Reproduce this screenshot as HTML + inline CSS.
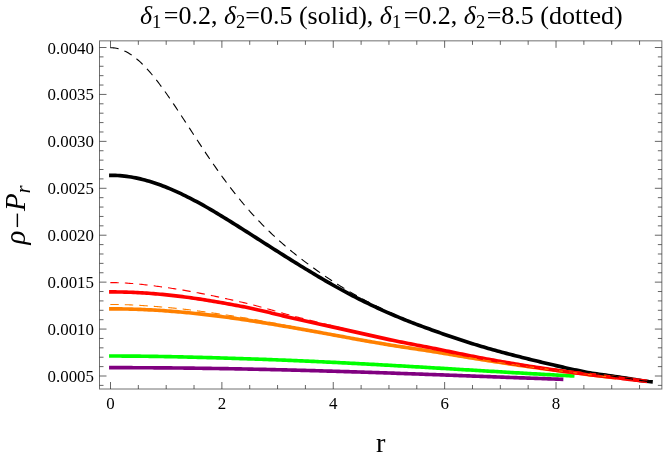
<!DOCTYPE html>
<html><head><meta charset="utf-8"><title>plot</title>
<style>
html,body{margin:0;padding:0;background:#fff;}
body{width:664px;height:458px;overflow:hidden;}
svg{display:block;will-change:transform;}
text{font-family:"Liberation Serif",serif;fill:#000;}
.t{font-size:16.9px;}
.ti{font-size:26px;}
.i{font-style:italic;}
.sub{font-size:18.5px;}
.ax{font-size:29px;}
</style></head><body>
<svg width="664" height="458" viewBox="0 0 664 458">
<rect width="664" height="458" fill="#fff"/>
<rect x="99.5" y="40.85" width="562.35" height="348.15" fill="none" stroke="#707070" stroke-width="1"/>
<path d="M110.50 389.0 v-7 M110.50 40.85 v7 M138.34 389.0 v-4 M138.34 40.85 v4 M166.19 389.0 v-4 M166.19 40.85 v4 M194.03 389.0 v-4 M194.03 40.85 v4 M221.88 389.0 v-7 M221.88 40.85 v7 M249.72 389.0 v-4 M249.72 40.85 v4 M277.57 389.0 v-4 M277.57 40.85 v4 M305.41 389.0 v-4 M305.41 40.85 v4 M333.26 389.0 v-7 M333.26 40.85 v7 M361.11 389.0 v-4 M361.11 40.85 v4 M388.95 389.0 v-4 M388.95 40.85 v4 M416.79 389.0 v-4 M416.79 40.85 v4 M444.64 389.0 v-7 M444.64 40.85 v7 M472.49 389.0 v-4 M472.49 40.85 v4 M500.33 389.0 v-4 M500.33 40.85 v4 M528.17 389.0 v-4 M528.17 40.85 v4 M556.02 389.0 v-7 M556.02 40.85 v7 M583.87 389.0 v-4 M583.87 40.85 v4 M611.71 389.0 v-4 M611.71 40.85 v4 M639.55 389.0 v-4 M639.55 40.85 v4 M99.5 385.39 h4 M661.85 385.39 h-4 M99.5 376.00 h7 M661.85 376.00 h-7 M99.5 366.61 h4 M661.85 366.61 h-4 M99.5 357.23 h4 M661.85 357.23 h-4 M99.5 347.84 h4 M661.85 347.84 h-4 M99.5 338.46 h4 M661.85 338.46 h-4 M99.5 329.07 h7 M661.85 329.07 h-7 M99.5 319.69 h4 M661.85 319.69 h-4 M99.5 310.30 h4 M661.85 310.30 h-4 M99.5 300.91 h4 M661.85 300.91 h-4 M99.5 291.53 h4 M661.85 291.53 h-4 M99.5 282.14 h7 M661.85 282.14 h-7 M99.5 272.76 h4 M661.85 272.76 h-4 M99.5 263.37 h4 M661.85 263.37 h-4 M99.5 253.99 h4 M661.85 253.99 h-4 M99.5 244.60 h4 M661.85 244.60 h-4 M99.5 235.21 h7 M661.85 235.21 h-7 M99.5 225.83 h4 M661.85 225.83 h-4 M99.5 216.44 h4 M661.85 216.44 h-4 M99.5 207.06 h4 M661.85 207.06 h-4 M99.5 197.67 h4 M661.85 197.67 h-4 M99.5 188.29 h7 M661.85 188.29 h-7 M99.5 178.90 h4 M661.85 178.90 h-4 M99.5 169.51 h4 M661.85 169.51 h-4 M99.5 160.13 h4 M661.85 160.13 h-4 M99.5 150.74 h4 M661.85 150.74 h-4 M99.5 141.36 h7 M661.85 141.36 h-7 M99.5 131.97 h4 M661.85 131.97 h-4 M99.5 122.59 h4 M661.85 122.59 h-4 M99.5 113.20 h4 M661.85 113.20 h-4 M99.5 103.81 h4 M661.85 103.81 h-4 M99.5 94.43 h7 M661.85 94.43 h-7 M99.5 85.04 h4 M661.85 85.04 h-4 M99.5 75.66 h4 M661.85 75.66 h-4 M99.5 66.27 h4 M661.85 66.27 h-4 M99.5 56.89 h4 M661.85 56.89 h-4 M99.5 47.50 h7 M661.85 47.50 h-7" fill="none" stroke="#333" stroke-width="0.75"/>
<path d="M110.89 175.32 L113.15 175.34 L115.41 175.41 L117.67 175.52 L119.93 175.67 L122.19 175.86 L124.45 176.10 L126.71 176.38 L128.97 176.70 L131.23 177.06 L133.49 177.46 L135.75 177.89 L138.01 178.37 L140.27 178.89 L142.53 179.44 L144.79 180.03 L147.05 180.65 L149.31 181.31 L151.57 182.00 L153.83 182.73 L156.08 183.48 L158.34 184.27 L160.60 185.09 L162.86 185.94 L165.12 186.82 L167.38 187.72 L169.64 188.66 L171.90 189.62 L174.16 190.60 L176.42 191.61 L178.68 192.65 L180.94 193.71 L183.20 194.79 L185.46 195.89 L187.72 197.02 L189.98 198.17 L192.24 199.33 L194.50 200.52 L196.76 201.73 L199.02 202.95 L201.28 204.20 L203.54 205.46 L205.80 206.73 L208.06 208.03 L210.32 209.34 L212.58 210.66 L214.84 212.00 L217.10 213.35 L219.36 214.71 L221.62 216.08 L223.88 217.47 L226.14 218.86 L228.40 220.26 L230.66 221.66 L232.92 223.08 L235.18 224.49 L237.44 225.91 L239.70 227.34 L241.96 228.77 L244.22 230.20 L246.48 231.64 L248.73 233.07 L250.99 234.51 L253.25 235.96 L255.51 237.40 L257.77 238.84 L260.03 240.29 L262.29 241.73 L264.55 243.18 L266.81 244.62 L269.07 246.06 L271.33 247.50 L273.59 248.94 L275.85 250.37 L278.11 251.81 L280.37 253.24 L282.63 254.66 L284.89 256.09 L287.15 257.51 L289.41 258.92 L291.67 260.33 L293.93 261.74 L296.19 263.14 L298.45 264.54 L300.71 265.93 L302.97 267.31 L305.23 268.69 L307.49 270.06 L309.75 271.43 L312.01 272.79 L314.27 274.15 L316.53 275.50 L318.79 276.84 L321.05 278.17 L323.31 279.50 L325.57 280.82 L327.83 282.13 L330.09 283.42 L332.35 284.71 L334.61 285.99 L336.87 287.25 L339.13 288.50 L341.38 289.74 L343.64 290.97 L345.90 292.19 L348.16 293.40 L350.42 294.59 L352.68 295.77 L354.94 296.94 L357.20 298.10 L359.46 299.25 L361.72 300.38 L363.98 301.50 L366.24 302.61 L368.50 303.71 L370.76 304.80 L373.02 305.87 L375.28 306.94 L377.54 307.99 L379.80 309.02 L382.06 310.05 L384.32 311.07 L386.58 312.07 L388.84 313.06 L391.10 314.04 L393.36 315.01 L395.62 315.97 L397.88 316.92 L400.14 317.85 L402.40 318.78 L404.66 319.69 L406.92 320.59 L409.18 321.48 L411.44 322.37 L413.70 323.24 L415.96 324.10 L418.22 324.95 L420.48 325.79 L422.74 326.63 L425.00 327.45 L427.26 328.27 L429.52 329.09 L431.78 329.91 L434.03 330.72 L436.29 331.52 L438.55 332.33 L440.81 333.12 L443.07 333.91 L445.33 334.70 L447.59 335.48 L449.85 336.26 L452.11 337.03 L454.37 337.79 L456.63 338.55 L458.89 339.30 L461.15 340.05 L463.41 340.79 L465.67 341.52 L467.93 342.25 L470.19 342.96 L472.45 343.68 L474.71 344.38 L476.97 345.08 L479.23 345.76 L481.49 346.45 L483.75 347.12 L486.01 347.78 L488.27 348.44 L490.53 349.08 L492.79 349.72 L495.05 350.35 L497.31 350.97 L499.57 351.58 L501.83 352.18 L504.09 352.77 L506.35 353.37 L508.61 353.96 L510.87 354.54 L513.13 355.12 L515.39 355.70 L517.65 356.28 L519.91 356.85 L522.17 357.42 L524.43 357.99 L526.68 358.55 L528.94 359.11 L531.20 359.67 L533.46 360.22 L535.72 360.77 L537.98 361.32 L540.24 361.87 L542.50 362.41 L544.76 362.95 L547.02 363.48 L549.28 364.02 L551.54 364.55 L553.80 365.07 L556.06 365.60 L558.32 366.12 L560.58 366.64 L562.84 367.15 L565.10 367.66 L567.36 368.17 L569.62 368.67 L571.88 369.17 L574.14 369.66 L576.40 370.15 L578.66 370.63 L580.92 371.11 L583.18 371.58 L585.44 372.01 L587.70 372.43 L589.96 372.81 L592.22 373.18 L594.48 373.54 L596.74 373.88 L599.00 374.21 L601.26 374.53 L603.52 374.84 L605.78 375.16 L608.04 375.47 L610.30 375.79 L612.56 376.12 L614.82 376.45 L617.08 376.80 L619.33 377.15 L621.59 377.49 L623.85 377.81 L626.11 378.13 L628.37 378.46 L630.63 378.82 L632.89 379.20 L635.15 379.58 L637.41 379.96 L639.67 380.33 L641.93 380.68 L644.19 381.00 L646.45 381.28 L648.71 381.52 L650.97 381.69" fill="none" stroke="#000" stroke-width="3.65" stroke-linecap="square"/>
<path d="M110.89 356.03 L112.82 356.03 L114.75 356.03 L116.69 356.03 L118.62 356.04 L120.55 356.05 L122.48 356.05 L124.41 356.06 L126.35 356.08 L128.28 356.09 L130.21 356.10 L132.14 356.12 L134.08 356.13 L136.01 356.15 L137.94 356.17 L139.87 356.19 L141.80 356.21 L143.74 356.24 L145.67 356.26 L147.60 356.29 L149.53 356.31 L151.46 356.34 L153.40 356.37 L155.33 356.40 L157.26 356.43 L159.19 356.46 L161.13 356.50 L163.06 356.53 L164.99 356.57 L166.92 356.60 L168.85 356.64 L170.79 356.68 L172.72 356.72 L174.65 356.76 L176.58 356.80 L178.51 356.84 L180.45 356.89 L182.38 356.93 L184.31 356.98 L186.24 357.02 L188.18 357.07 L190.11 357.12 L192.04 357.17 L193.97 357.22 L195.90 357.27 L197.84 357.32 L199.77 357.37 L201.70 357.42 L203.63 357.47 L205.56 357.53 L207.50 357.58 L209.43 357.64 L211.36 357.69 L213.29 357.75 L215.23 357.80 L217.16 357.86 L219.09 357.92 L221.02 357.98 L222.95 358.04 L224.89 358.10 L226.82 358.16 L228.75 358.22 L230.68 358.28 L232.61 358.34 L234.55 358.40 L236.48 358.46 L238.41 358.52 L240.34 358.59 L242.28 358.65 L244.21 358.71 L246.14 358.78 L248.07 358.84 L250.00 358.90 L251.94 358.97 L253.87 359.03 L255.80 359.10 L257.73 359.17 L259.66 359.23 L261.60 359.30 L263.53 359.37 L265.46 359.44 L267.39 359.51 L269.33 359.58 L271.26 359.66 L273.19 359.73 L275.12 359.80 L277.05 359.88 L278.99 359.95 L280.92 360.03 L282.85 360.11 L284.78 360.18 L286.71 360.26 L288.65 360.34 L290.58 360.42 L292.51 360.50 L294.44 360.58 L296.38 360.66 L298.31 360.75 L300.24 360.83 L302.17 360.91 L304.10 361.00 L306.04 361.08 L307.97 361.17 L309.90 361.25 L311.83 361.34 L313.76 361.43 L315.70 361.52 L317.63 361.61 L319.56 361.70 L321.49 361.79 L323.43 361.88 L325.36 361.97 L327.29 362.06 L329.22 362.15 L331.15 362.25 L333.09 362.34 L335.02 362.43 L336.95 362.53 L338.88 362.62 L340.81 362.72 L342.75 362.82 L344.68 362.91 L346.61 363.01 L348.54 363.11 L350.48 363.21 L352.41 363.31 L354.34 363.41 L356.27 363.51 L358.20 363.61 L360.14 363.71 L362.07 363.81 L364.00 363.91 L365.93 364.02 L367.86 364.12 L369.80 364.22 L371.73 364.33 L373.66 364.43 L375.59 364.54 L377.53 364.64 L379.46 364.75 L381.39 364.85 L383.32 364.96 L385.25 365.07 L387.19 365.18 L389.12 365.28 L391.05 365.39 L392.98 365.50 L394.91 365.61 L396.85 365.72 L398.78 365.83 L400.71 365.94 L402.64 366.05 L404.58 366.16 L406.51 366.27 L408.44 366.38 L410.37 366.49 L412.30 366.60 L414.24 366.72 L416.17 366.83 L418.10 366.94 L420.03 367.05 L421.96 367.17 L423.90 367.28 L425.83 367.39 L427.76 367.51 L429.69 367.62 L431.63 367.74 L433.56 367.85 L435.49 367.96 L437.42 368.08 L439.35 368.19 L441.29 368.31 L443.22 368.42 L445.15 368.54 L447.08 368.66 L449.01 368.77 L450.95 368.89 L452.88 369.00 L454.81 369.12 L456.74 369.23 L458.68 369.35 L460.61 369.47 L462.54 369.58 L464.47 369.70 L466.40 369.81 L468.34 369.93 L470.27 370.05 L472.20 370.16 L474.13 370.28 L476.06 370.40 L478.00 370.51 L479.93 370.63 L481.86 370.74 L483.79 370.86 L485.73 370.98 L487.66 371.09 L489.59 371.21 L491.52 371.32 L493.45 371.44 L495.39 371.55 L497.32 371.67 L499.25 371.79 L501.18 371.90 L503.11 372.02 L505.05 372.13 L506.98 372.24 L508.91 372.36 L510.84 372.47 L512.77 372.59 L514.71 372.70 L516.64 372.81 L518.57 372.93 L520.50 373.04 L522.44 373.15 L524.37 373.26 L526.30 373.38 L528.23 373.49 L530.16 373.60 L532.10 373.71 L534.03 373.82 L535.96 373.93 L537.89 374.04 L539.82 374.15 L541.76 374.26 L543.69 374.37 L545.62 374.48 L547.55 374.59 L549.49 374.69 L551.42 374.80 L553.35 374.91 L555.28 375.01 L557.21 375.12 L559.15 375.22 L561.08 375.33 L563.01 375.43 L564.94 375.54 L566.87 375.64 L568.81 375.74 L570.74 375.84 L572.67 375.94" fill="none" stroke="#00ff00" stroke-width="3.65" stroke-linecap="square"/>
<path d="M110.89 367.66 L112.78 367.66 L114.66 367.66 L116.55 367.66 L118.43 367.66 L120.32 367.67 L122.20 367.67 L124.09 367.67 L125.97 367.68 L127.86 367.68 L129.75 367.69 L131.63 367.69 L133.52 367.70 L135.40 367.71 L137.29 367.71 L139.17 367.72 L141.06 367.73 L142.94 367.74 L144.83 367.75 L146.72 367.76 L148.60 367.77 L150.49 367.78 L152.37 367.79 L154.26 367.81 L156.14 367.82 L158.03 367.83 L159.91 367.85 L161.80 367.86 L163.68 367.87 L165.57 367.89 L167.46 367.91 L169.34 367.92 L171.23 367.94 L173.11 367.96 L175.00 367.98 L176.88 367.99 L178.77 368.01 L180.65 368.03 L182.54 368.05 L184.43 368.07 L186.31 368.10 L188.20 368.12 L190.08 368.14 L191.97 368.16 L193.85 368.19 L195.74 368.21 L197.62 368.23 L199.51 368.26 L201.40 368.28 L203.28 368.31 L205.17 368.34 L207.05 368.36 L208.94 368.39 L210.82 368.42 L212.71 368.45 L214.59 368.48 L216.48 368.51 L218.37 368.54 L220.25 368.57 L222.14 368.60 L224.02 368.63 L225.91 368.66 L227.79 368.69 L229.68 368.73 L231.56 368.76 L233.45 368.79 L235.34 368.83 L237.22 368.86 L239.11 368.90 L240.99 368.93 L242.88 368.97 L244.76 369.01 L246.65 369.04 L248.53 369.08 L250.42 369.12 L252.31 369.16 L254.19 369.20 L256.08 369.24 L257.96 369.28 L259.85 369.32 L261.73 369.36 L263.62 369.40 L265.50 369.44 L267.39 369.49 L269.27 369.53 L271.16 369.57 L273.05 369.61 L274.93 369.66 L276.82 369.70 L278.70 369.75 L280.59 369.79 L282.47 369.84 L284.36 369.89 L286.24 369.93 L288.13 369.98 L290.02 370.03 L291.90 370.07 L293.79 370.12 L295.67 370.17 L297.56 370.22 L299.44 370.27 L301.33 370.32 L303.21 370.37 L305.10 370.42 L306.99 370.47 L308.87 370.52 L310.76 370.57 L312.64 370.63 L314.53 370.68 L316.41 370.73 L318.30 370.79 L320.18 370.84 L322.07 370.89 L323.96 370.95 L325.84 371.00 L327.73 371.06 L329.61 371.11 L331.50 371.17 L333.38 371.23 L335.27 371.28 L337.15 371.34 L339.04 371.40 L340.93 371.45 L342.81 371.51 L344.70 371.57 L346.58 371.63 L348.47 371.69 L350.35 371.75 L352.24 371.81 L354.12 371.87 L356.01 371.93 L357.90 371.99 L359.78 372.05 L361.67 372.11 L363.55 372.17 L365.44 372.23 L367.32 372.29 L369.21 372.35 L371.09 372.42 L372.98 372.48 L374.87 372.54 L376.75 372.60 L378.64 372.67 L380.52 372.73 L382.41 372.80 L384.29 372.86 L386.18 372.92 L388.06 372.99 L389.95 373.05 L391.83 373.12 L393.72 373.18 L395.61 373.25 L397.49 373.31 L399.38 373.38 L401.26 373.45 L403.15 373.51 L405.03 373.58 L406.92 373.65 L408.80 373.71 L410.69 373.78 L412.58 373.85 L414.46 373.91 L416.35 373.98 L418.23 374.05 L420.12 374.12 L422.00 374.19 L423.89 374.25 L425.77 374.32 L427.66 374.39 L429.55 374.46 L431.43 374.53 L433.32 374.60 L435.20 374.67 L437.09 374.73 L438.97 374.80 L440.86 374.87 L442.74 374.94 L444.63 375.01 L446.52 375.08 L448.40 375.15 L450.29 375.22 L452.17 375.29 L454.06 375.36 L455.94 375.43 L457.83 375.50 L459.71 375.57 L461.60 375.64 L463.49 375.71 L465.37 375.78 L467.26 375.85 L469.14 375.92 L471.03 375.99 L472.91 376.06 L474.80 376.13 L476.68 376.20 L478.57 376.27 L480.46 376.34 L482.34 376.41 L484.23 376.48 L486.11 376.55 L488.00 376.62 L489.88 376.69 L491.77 376.76 L493.65 376.83 L495.54 376.90 L497.43 376.97 L499.31 377.04 L501.20 377.11 L503.08 377.18 L504.97 377.25 L506.85 377.32 L508.74 377.39 L510.62 377.46 L512.51 377.53 L514.39 377.60 L516.28 377.67 L518.17 377.74 L520.05 377.81 L521.94 377.87 L523.82 377.94 L525.71 378.01 L527.59 378.08 L529.48 378.15 L531.36 378.22 L533.25 378.28 L535.14 378.35 L537.02 378.42 L538.91 378.48 L540.79 378.55 L542.68 378.62 L544.56 378.68 L546.45 378.75 L548.33 378.82 L550.22 378.88 L552.11 378.95 L553.99 379.01 L555.88 379.08 L557.76 379.14 L559.65 379.21 L561.53 379.27" fill="none" stroke="#800080" stroke-width="3.65" stroke-linecap="square"/>
<path d="M110.89 308.84 L113.00 308.84 L115.10 308.85 L117.21 308.87 L119.32 308.89 L121.43 308.92 L123.53 308.95 L125.64 308.99 L127.75 309.04 L129.85 309.09 L131.96 309.15 L134.07 309.21 L136.18 309.28 L138.28 309.35 L140.39 309.43 L142.50 309.52 L144.60 309.61 L146.71 309.71 L148.82 309.81 L150.93 309.92 L153.03 310.04 L155.14 310.16 L157.25 310.28 L159.35 310.41 L161.46 310.55 L163.57 310.69 L165.68 310.84 L167.78 310.99 L169.89 311.15 L172.00 311.31 L174.10 311.48 L176.21 311.65 L178.32 311.83 L180.43 312.02 L182.53 312.21 L184.64 312.40 L186.75 312.60 L188.85 312.80 L190.96 313.01 L193.07 313.23 L195.18 313.45 L197.28 313.67 L199.39 313.90 L201.50 314.13 L203.60 314.37 L205.71 314.61 L207.82 314.85 L209.93 315.10 L212.03 315.36 L214.14 315.62 L216.25 315.88 L218.35 316.15 L220.46 316.42 L222.57 316.69 L224.67 316.97 L226.78 317.25 L228.89 317.54 L231.00 317.83 L233.10 318.12 L235.21 318.42 L237.32 318.72 L239.42 319.03 L241.53 319.33 L243.64 319.64 L245.75 319.96 L247.85 320.28 L249.96 320.60 L252.07 320.92 L254.17 321.25 L256.28 321.58 L258.39 321.91 L260.50 322.24 L262.60 322.58 L264.71 322.92 L266.82 323.26 L268.92 323.61 L271.03 323.95 L273.14 324.30 L275.25 324.65 L277.35 325.01 L279.46 325.36 L281.57 325.72 L283.67 326.08 L285.78 326.44 L287.89 326.81 L290.00 327.17 L292.10 327.54 L294.21 327.91 L296.32 328.28 L298.42 328.65 L300.53 329.02 L302.64 329.39 L304.75 329.77 L306.85 330.14 L308.96 330.52 L311.07 330.90 L313.17 331.28 L315.28 331.66 L317.39 332.04 L319.50 332.42 L321.60 332.80 L323.71 333.18 L325.82 333.56 L327.92 333.94 L330.03 334.33 L332.14 334.71 L334.25 335.09 L336.35 335.48 L338.46 335.87 L340.57 336.26 L342.67 336.66 L344.78 337.05 L346.89 337.44 L349.00 337.83 L351.10 338.22 L353.21 338.60 L355.32 338.99 L357.42 339.37 L359.53 339.74 L361.64 340.12 L363.75 340.49 L365.85 340.86 L367.96 341.22 L370.07 341.59 L372.17 341.95 L374.28 342.32 L376.39 342.68 L378.50 343.05 L380.60 343.41 L382.71 343.78 L384.82 344.14 L386.92 344.50 L389.03 344.85 L391.14 345.20 L393.25 345.54 L395.35 345.87 L397.46 346.20 L399.57 346.52 L401.67 346.84 L403.78 347.16 L405.89 347.48 L408.00 347.79 L410.10 348.10 L412.21 348.41 L414.32 348.72 L416.42 349.03 L418.53 349.35 L420.64 349.66 L422.75 349.98 L424.85 350.30 L426.96 350.62 L429.07 350.95 L431.17 351.28 L433.28 351.61 L435.39 351.95 L437.50 352.29 L439.60 352.64 L441.71 352.99 L443.82 353.35 L445.92 353.71 L448.03 354.07 L450.14 354.43 L452.25 354.79 L454.35 355.15 L456.46 355.50 L458.57 355.85 L460.67 356.21 L462.78 356.55 L464.89 356.90 L467.00 357.25 L469.10 357.60 L471.21 357.94 L473.32 358.28 L475.42 358.62 L477.53 358.96 L479.64 359.30 L481.75 359.63 L483.85 359.97 L485.96 360.30 L488.07 360.63 L490.17 360.95 L492.28 361.28 L494.39 361.61 L496.50 361.93 L498.60 362.25 L500.71 362.57 L502.82 362.89 L504.92 363.21 L507.03 363.53 L509.14 363.84 L511.25 364.15 L513.35 364.46 L515.46 364.77 L517.57 365.08 L519.67 365.38 L521.78 365.69 L523.89 365.99 L525.99 366.29 L528.10 366.59 L530.21 366.89 L532.32 367.18 L534.42 367.47 L536.53 367.76 L538.64 368.05 L540.74 368.33 L542.85 368.61 L544.96 368.90 L547.07 369.18 L549.17 369.46 L551.28 369.74 L553.39 370.02 L555.49 370.30 L557.60 370.58 L559.71 370.86 L561.82 371.14 L563.92 371.42 L566.03 371.69 L568.14 371.96 L570.24 372.23 L572.35 372.50 L574.46 372.76 L576.57 373.03 L578.67 373.29 L580.78 373.55 L582.89 373.81 L584.99 374.07 L587.10 374.32 L589.21 374.58 L591.32 374.83 L593.42 375.09 L595.53 375.34 L597.64 375.59 L599.74 375.84 L601.85 376.09 L603.96 376.34 L606.07 376.59 L608.17 376.84 L610.28 377.09 L612.39 377.34 L614.49 377.58" fill="none" stroke="#ff8000" stroke-width="3.65" stroke-linecap="square"/>
<path d="M110.89 291.90 L113.13 291.91 L115.36 291.92 L117.60 291.95 L119.83 291.98 L122.07 292.03 L124.31 292.08 L126.54 292.15 L128.78 292.22 L131.02 292.30 L133.25 292.40 L135.49 292.50 L137.72 292.61 L139.96 292.73 L142.20 292.86 L144.43 293.00 L146.67 293.14 L148.91 293.30 L151.14 293.47 L153.38 293.64 L155.61 293.83 L157.85 294.02 L160.09 294.22 L162.32 294.43 L164.56 294.65 L166.80 294.87 L169.03 295.11 L171.27 295.35 L173.50 295.60 L175.74 295.86 L177.98 296.12 L180.21 296.40 L182.45 296.68 L184.69 296.97 L186.92 297.26 L189.16 297.56 L191.39 297.87 L193.63 298.19 L195.87 298.52 L198.10 298.85 L200.34 299.18 L202.57 299.53 L204.81 299.87 L207.05 300.23 L209.28 300.59 L211.52 300.96 L213.76 301.33 L215.99 301.71 L218.23 302.09 L220.46 302.48 L222.70 302.88 L224.94 303.28 L227.17 303.68 L229.41 304.09 L231.65 304.50 L233.88 304.92 L236.12 305.34 L238.35 305.77 L240.59 306.20 L242.83 306.63 L245.06 307.07 L247.30 307.52 L249.54 307.99 L251.77 308.46 L254.01 308.95 L256.24 309.45 L258.48 309.96 L260.72 310.47 L262.95 311.00 L265.19 311.53 L267.43 312.06 L269.66 312.60 L271.90 313.15 L274.13 313.69 L276.37 314.23 L278.61 314.78 L280.84 315.32 L283.08 315.87 L285.32 316.40 L287.55 316.94 L289.79 317.47 L292.02 317.99 L294.26 318.51 L296.50 319.01 L298.73 319.51 L300.97 320.00 L303.20 320.49 L305.44 320.98 L307.68 321.47 L309.91 321.96 L312.15 322.45 L314.39 322.94 L316.62 323.44 L318.86 323.93 L321.09 324.42 L323.33 324.92 L325.57 325.41 L327.80 325.91 L330.04 326.40 L332.28 326.90 L334.51 327.40 L336.75 327.89 L338.98 328.39 L341.22 328.89 L343.46 329.39 L345.69 329.88 L347.93 330.38 L350.17 330.88 L352.40 331.38 L354.64 331.88 L356.87 332.38 L359.11 332.88 L361.35 333.38 L363.58 333.88 L365.82 334.38 L368.06 334.88 L370.29 335.38 L372.53 335.89 L374.76 336.39 L377.00 336.89 L379.24 337.39 L381.47 337.89 L383.71 338.39 L385.95 338.89 L388.18 339.38 L390.42 339.85 L392.65 340.32 L394.89 340.79 L397.13 341.24 L399.36 341.70 L401.60 342.14 L403.83 342.58 L406.07 343.02 L408.31 343.46 L410.54 343.89 L412.78 344.32 L415.02 344.75 L417.25 345.18 L419.49 345.60 L421.72 346.03 L423.96 346.46 L426.20 346.89 L428.43 347.33 L430.67 347.76 L432.91 348.20 L435.14 348.65 L437.38 349.09 L439.61 349.55 L441.85 350.01 L444.09 350.47 L446.32 350.94 L448.56 351.41 L450.80 351.88 L453.03 352.34 L455.27 352.80 L457.50 353.26 L459.74 353.71 L461.98 354.16 L464.21 354.61 L466.45 355.06 L468.69 355.50 L470.92 355.94 L473.16 356.38 L475.39 356.81 L477.63 357.24 L479.87 357.67 L482.10 358.09 L484.34 358.51 L486.58 358.93 L488.81 359.34 L491.05 359.75 L493.28 360.16 L495.52 360.56 L497.76 360.96 L499.99 361.36 L502.23 361.75 L504.46 362.14 L506.70 362.52 L508.94 362.91 L511.17 363.28 L513.41 363.66 L515.65 364.03 L517.88 364.40 L520.12 364.76 L522.35 365.12 L524.59 365.48 L526.83 365.84 L529.06 366.19 L531.30 366.54 L533.54 366.88 L535.77 367.22 L538.01 367.56 L540.24 367.90 L542.48 368.23 L544.72 368.56 L546.95 368.88 L549.19 369.20 L551.43 369.52 L553.66 369.84 L555.90 370.16 L558.13 370.47 L560.37 370.78 L562.61 371.08 L564.84 371.39 L567.08 371.69 L569.32 371.98 L571.55 372.28 L573.79 372.57 L576.02 372.87 L578.26 373.15 L580.50 373.44 L582.73 373.73 L584.97 374.01 L587.21 374.29 L589.44 374.57 L591.68 374.84 L593.91 375.12 L596.15 375.39 L598.39 375.67 L600.62 375.94 L602.86 376.20 L605.09 376.47 L607.33 376.74 L609.57 377.00 L611.80 377.27 L614.04 377.53 L616.28 377.79 L618.51 378.05 L620.75 378.31 L622.98 378.57 L625.22 378.83 L627.46 379.09 L629.69 379.34 L631.93 379.60 L634.17 379.85 L636.40 380.11 L638.64 380.37 L640.87 380.62 L643.11 380.87 L645.35 381.13" fill="none" stroke="#ff0000" stroke-width="3.65" stroke-linecap="square"/>
<path d="M110.89 304.44 L112.15 304.44 L113.41 304.45 L114.68 304.46 L115.94 304.47 L117.20 304.49 L118.46 304.51 L119.72 304.54 L120.99 304.57 L122.25 304.60 L123.51 304.63 L124.77 304.67 L126.04 304.71 L127.30 304.76 L128.56 304.81 L129.82 304.86 L131.08 304.91 L132.35 304.97 L133.61 305.03 L134.87 305.09 L136.13 305.16 L137.40 305.22 L138.66 305.29 L139.92 305.37 L141.18 305.44 L142.44 305.52 L143.71 305.60 L144.97 305.68 L146.23 305.77 L147.49 305.86 L148.75 305.95 L150.02 306.04 L151.28 306.13 L152.54 306.23 L153.80 306.33 L155.07 306.43 L156.33 306.53 L157.59 306.63 L158.85 306.74 L160.11 306.84 L161.38 306.95 L162.64 307.06 L163.90 307.17 L165.16 307.28 L166.43 307.40 L167.69 307.51 L168.95 307.63 L170.21 307.75 L171.47 307.87 L172.74 308.00 L174.00 308.12 L175.26 308.25 L176.52 308.39 L177.78 308.52 L179.05 308.66 L180.31 308.79 L181.57 308.93 L182.83 309.08 L184.10 309.22 L185.36 309.37 L186.62 309.51 L187.88 309.66 L189.14 309.82 L190.41 309.97 L191.67 310.12 L192.93 310.28 L194.19 310.44 L195.46 310.60 L196.72 310.76 L197.98 310.93 L199.24 311.09 L200.50 311.26 L201.77 311.43 L203.03 311.60 L204.29 311.77 L205.55 311.94 L206.81 312.12 L208.08 312.30 L209.34 312.47 L210.60 312.65 L211.86 312.83 L213.13 313.01 L214.39 313.20 L215.65 313.38 L216.91 313.56 L218.17 313.75 L219.44 313.94 L220.70 314.12 L221.96 314.31 L223.22 314.50 L224.48 314.69 L225.75 314.89 L227.01 315.08 L228.27 315.27 L229.53 315.47 L230.80 315.66 L232.06 315.86 L233.32 316.06 L234.58 316.26 L235.84 316.46 L237.11 316.66 L238.37 316.87 L239.63 317.07 L240.89 317.28 L242.16 317.48 L243.42 317.69 L244.68 317.90 L245.94 318.12 L247.20 318.33 L248.47 318.54 L249.73 318.76 L250.99 318.98 L252.25 319.20 L253.51 319.42 L254.78 319.64 L256.04 319.87 L257.30 320.09 L258.56 320.32 L259.83 320.55 L261.09 320.78 L262.35 321.01 L263.61 321.24 L264.87 321.47 L266.14 321.71 L267.40 321.94 L268.66 322.18 L269.92 322.41 L271.19 322.65 L272.45 322.88 L273.71 323.12 L274.97 323.36 L276.23 323.59 L277.50 323.83 L278.76 324.07 L280.02 324.31 L281.28 324.55 L282.54 324.79 L283.81 325.03 L285.07 325.27 L286.33 325.51 L287.59 325.76 L288.86 326.00 L290.12 326.25 L291.38 326.49 L292.64 326.74 L293.90 326.98 L295.17 327.23 L296.43 327.47 L297.69 327.72 L298.95 327.96 L300.21 328.21 L301.48 328.45 L302.74 328.70 L304.00 328.94 L305.26 329.18 L306.53 329.43 L307.79 329.67 L309.05 329.91 L310.31 330.15 L311.57 330.40 L312.84 330.64 L314.10 330.88 L315.36 331.12 L316.62 331.36 L317.89 331.60 L319.15 331.84 L320.41 332.08 L321.67 332.32 L322.93 332.56 L324.20 332.80 L325.46 333.05 L326.72 333.29 L327.98 333.53 L329.24 333.77 L330.51 334.01 L331.77 334.25 L333.03 334.49 L334.29 334.73 L335.56 334.97 L336.82 335.21 L338.08 335.46 L339.34 335.70 L340.60 335.95 L341.87 336.19 L343.13 336.43 L344.39 336.68 L345.65 336.92 L346.92 337.17 L348.18 337.41 L349.44 337.65 L350.70 337.89 L351.96 338.13 L353.23 338.37 L354.49 338.60 L355.75 338.84 L357.01 339.07 L358.27 339.30 L359.54 339.54 L360.80 339.77 L362.06 340.00 L363.32 340.23 L364.59 340.45 L365.85 340.68 L367.11 340.91 L368.37 341.13 L369.63 341.36 L370.90 341.58 L372.16 341.81 L373.42 342.03 L374.68 342.26 L375.94 342.48 L377.21 342.70 L378.47 342.93 L379.73 343.15 L380.99 343.38 L382.26 343.60 L383.52 343.83 L384.78 344.05 L386.04 344.27 L387.30 344.49 L388.57 344.71 L389.83 344.92 L391.09 345.14 L392.35 345.34 L393.62 345.55 L394.88 345.76 L396.14 345.96 L397.40 346.16 L398.66 346.36 L399.93 346.55 L401.19 346.75 L402.45 346.94 L403.71 347.13 L404.97 347.33 L406.24 347.52 L407.50 347.71 L408.76 347.90 L410.02 348.08 L411.29 348.27 L412.55 348.46 L413.81 348.65 L415.07 348.83 L416.33 349.02 L417.60 349.21 L418.86 349.40 L420.12 349.59 L421.38 349.77 L422.65 349.96 L423.91 350.16 L425.17 350.35 L426.43 350.54 L427.69 350.73 L428.96 350.93 L430.22 351.13 L431.48 351.32 L432.74 351.52 L434.00 351.72 L435.27 351.93 L436.53 352.13 L437.79 352.34 L439.05 352.54 L440.32 352.75 L441.58 352.97 L442.84 353.18 L444.10 353.40 L445.36 353.61 L446.63 353.83 L447.89 354.05 L449.15 354.26 L450.41 354.48 L451.67 354.69 L452.94 354.91 L454.20 355.12 L455.46 355.33 L456.72 355.55 L457.99 355.76 L459.25 355.97 L460.51 356.18 L461.77 356.39 L463.03 356.60 L464.30 356.81 L465.56 357.01 L466.82 357.22 L468.08 357.43 L469.35 357.63 L470.61 357.84 L471.87 358.05 L473.13 358.25 L474.39 358.46 L475.66 358.66 L476.92 358.87 L478.18 359.07 L479.44 359.27 L480.70 359.47 L481.97 359.67 L483.23 359.87 L484.49 360.07 L485.75 360.27 L487.02 360.46 L488.28 360.66 L489.54 360.86 L490.80 361.05 L492.06 361.25 L493.33 361.44 L494.59 361.64 L495.85 361.83 L497.11 362.02 L498.38 362.22 L499.64 362.41 L500.90 362.60 L502.16 362.79 L503.42 362.99 L504.69 363.18 L505.95 363.37 L507.21 363.56 L508.47 363.74 L509.73 363.93 L511.00 364.12 L512.26 364.30 L513.52 364.49 L514.78 364.67 L516.05 364.86 L517.31 365.04 L518.57 365.22 L519.83 365.41 L521.09 365.59 L522.36 365.77 L523.62 365.95 L524.88 366.13 L526.14 366.31 L527.40 366.49 L528.67 366.67 L529.93 366.85 L531.19 367.02 L532.45 367.20 L533.72 367.37 L534.98 367.55 L536.24 367.72 L537.50 367.89 L538.76 368.06 L540.03 368.23 L541.29 368.40 L542.55 368.57 L543.81 368.74 L545.08 368.91 L546.34 369.08 L547.60 369.25 L548.86 369.42 L550.12 369.59 L551.39 369.75 L552.65 369.92 L553.91 370.09 L555.17 370.26 L556.43 370.43 L557.70 370.60 L558.96 370.76 L560.22 370.93 L561.48 371.10 L562.75 371.26 L564.01 371.43 L565.27 371.59 L566.53 371.75 L567.79 371.92 L569.06 372.08 L570.32 372.24 L571.58 372.40 L572.84 372.56 L574.11 372.72 L575.37 372.88 L576.63 373.03 L577.89 373.19 L579.15 373.35 L580.42 373.50 L581.68 373.66 L582.94 373.81 L584.20 373.97 L585.46 374.12 L586.73 374.28 L587.99 374.43 L589.25 374.58 L590.51 374.74 L591.78 374.89 L593.04 375.04 L594.30 375.19 L595.56 375.34 L596.82 375.49 L598.09 375.64 L599.35 375.79 L600.61 375.94 L601.87 376.09 L603.13 376.24 L604.40 376.39 L605.66 376.54 L606.92 376.69 L608.18 376.84 L609.45 376.99 L610.71 377.14 L611.97 377.29 L613.23 377.43 L614.49 377.58" fill="none" stroke="#ff8000" stroke-width="1.1" stroke-dasharray="7.3 7.2" stroke-linecap="square"/>
<path d="M110.89 282.60 L112.23 282.61 L113.57 282.62 L114.91 282.64 L116.25 282.67 L117.59 282.71 L118.93 282.75 L120.27 282.80 L121.61 282.86 L122.95 282.92 L124.28 282.99 L125.62 283.07 L126.96 283.15 L128.30 283.24 L129.64 283.33 L130.98 283.43 L132.32 283.54 L133.66 283.65 L135.00 283.76 L136.34 283.88 L137.68 284.01 L139.02 284.14 L140.36 284.27 L141.70 284.41 L143.04 284.56 L144.38 284.70 L145.72 284.85 L147.06 285.01 L148.40 285.17 L149.74 285.33 L151.07 285.49 L152.41 285.66 L153.75 285.83 L155.09 286.00 L156.43 286.18 L157.77 286.35 L159.11 286.53 L160.45 286.72 L161.79 286.90 L163.13 287.08 L164.47 287.27 L165.81 287.46 L167.15 287.64 L168.49 287.84 L169.83 288.03 L171.17 288.23 L172.51 288.43 L173.85 288.64 L175.19 288.85 L176.52 289.06 L177.86 289.27 L179.20 289.49 L180.54 289.71 L181.88 289.93 L183.22 290.16 L184.56 290.39 L185.90 290.62 L187.24 290.86 L188.58 291.10 L189.92 291.34 L191.26 291.58 L192.60 291.82 L193.94 292.07 L195.28 292.32 L196.62 292.58 L197.96 292.83 L199.30 293.09 L200.64 293.35 L201.98 293.61 L203.31 293.87 L204.65 294.14 L205.99 294.41 L207.33 294.68 L208.67 294.95 L210.01 295.23 L211.35 295.50 L212.69 295.78 L214.03 296.06 L215.37 296.34 L216.71 296.63 L218.05 296.91 L219.39 297.20 L220.73 297.48 L222.07 297.77 L223.41 298.06 L224.75 298.36 L226.09 298.65 L227.43 298.95 L228.77 299.24 L230.10 299.54 L231.44 299.84 L232.78 300.14 L234.12 300.44 L235.46 300.75 L236.80 301.05 L238.14 301.36 L239.48 301.67 L240.82 301.98 L242.16 302.29 L243.50 302.60 L244.84 302.91 L246.18 303.23 L247.52 303.55 L248.86 303.88 L250.20 304.21 L251.54 304.55 L252.88 304.89 L254.22 305.24 L255.55 305.59 L256.89 305.94 L258.23 306.30 L259.57 306.66 L260.91 307.02 L262.25 307.39 L263.59 307.76 L264.93 308.13 L266.27 308.50 L267.61 308.88 L268.95 309.26 L270.29 309.63 L271.63 310.01 L272.97 310.40 L274.31 310.78 L275.65 311.16 L276.99 311.54 L278.33 311.92 L279.67 312.30 L281.01 312.68 L282.34 313.05 L283.68 313.43 L285.02 313.80 L286.36 314.17 L287.70 314.54 L289.04 314.90 L290.38 315.26 L291.72 315.62 L293.06 315.98 L294.40 316.33 L295.74 316.68 L297.08 317.03 L298.42 317.37 L299.76 317.70 L301.10 318.04 L302.44 318.37 L303.78 318.71 L305.12 319.04 L306.46 319.37 L307.80 319.71 L309.13 320.04 L310.47 320.37 L311.81 320.70 L313.15 321.03 L314.49 321.36 L315.83 321.69 L317.17 322.03 L318.51 322.36 L319.85 322.69 L321.19 323.02 L322.53 323.35 L323.87 323.68 L325.21 324.01 L326.55 324.34 L327.89 324.67 L329.23 325.00 L330.57 325.33 L331.91 325.66 L333.25 325.99 L334.58 326.32 L335.92 326.64 L337.26 326.97 L338.60 327.30 L339.94 327.62 L341.28 327.95 L342.62 328.27 L343.96 328.59 L345.30 328.91 L346.64 329.24 L347.98 329.56 L349.32 329.88 L350.66 330.20 L352.00 330.52 L353.34 330.84 L354.68 331.16 L356.02 331.48 L357.36 331.80 L358.70 332.13 L360.04 332.45 L361.37 332.77 L362.71 333.08 L364.05 333.40 L365.39 333.72 L366.73 334.04 L368.07 334.36 L369.41 334.68 L370.75 335.00 L372.09 335.31 L373.43 335.63 L374.77 335.95 L376.11 336.26 L377.45 336.58 L378.79 336.89 L380.13 337.21 L381.47 337.52 L382.81 337.84 L384.15 338.15 L385.49 338.46 L386.82 338.76 L388.16 339.07 L389.50 339.36 L390.84 339.66 L392.18 339.95 L393.52 340.24 L394.86 340.53 L396.20 340.81 L397.54 341.10 L398.88 341.38 L400.22 341.66 L401.56 341.93 L402.90 342.21 L404.24 342.48 L405.58 342.75 L406.92 343.03 L408.26 343.30 L409.60 343.56 L410.94 343.83 L412.28 344.10 L413.61 344.36 L414.95 344.63 L416.29 344.89 L417.63 345.16 L418.97 345.42 L420.31 345.69 L421.65 345.95 L422.99 346.22 L424.33 346.48 L425.67 346.74 L427.01 347.01 L428.35 347.27 L429.69 347.54 L431.03 347.81 L432.37 348.08 L433.71 348.34 L435.05 348.61 L436.39 348.89 L437.73 349.16 L439.07 349.43 L440.40 349.71 L441.74 349.98 L443.08 350.26 L444.42 350.54 L445.76 350.83 L447.10 351.11 L448.44 351.39 L449.78 351.67 L451.12 351.94 L452.46 352.22 L453.80 352.50 L455.14 352.77 L456.48 353.05 L457.82 353.32 L459.16 353.59 L460.50 353.87 L461.84 354.14 L463.18 354.41 L464.52 354.67 L465.85 354.94 L467.19 355.21 L468.53 355.47 L469.87 355.74 L471.21 356.00 L472.55 356.26 L473.89 356.52 L475.23 356.78 L476.57 357.04 L477.91 357.30 L479.25 357.55 L480.59 357.81 L481.93 358.06 L483.27 358.31 L484.61 358.56 L485.95 358.81 L487.29 359.06 L488.63 359.31 L489.97 359.55 L491.31 359.80 L492.64 360.04 L493.98 360.29 L495.32 360.53 L496.66 360.77 L498.00 361.00 L499.34 361.24 L500.68 361.48 L502.02 361.71 L503.36 361.95 L504.70 362.18 L506.04 362.41 L507.38 362.64 L508.72 362.87 L510.06 363.10 L511.40 363.32 L512.74 363.55 L514.08 363.77 L515.42 363.99 L516.76 364.21 L518.10 364.43 L519.43 364.65 L520.77 364.87 L522.11 365.09 L523.45 365.30 L524.79 365.51 L526.13 365.73 L527.47 365.94 L528.81 366.15 L530.15 366.36 L531.49 366.57 L532.83 366.77 L534.17 366.98 L535.51 367.18 L536.85 367.39 L538.19 367.59 L539.53 367.79 L540.87 367.99 L542.21 368.19 L543.55 368.38 L544.88 368.58 L546.22 368.78 L547.56 368.97 L548.90 369.16 L550.24 369.36 L551.58 369.55 L552.92 369.74 L554.26 369.93 L555.60 370.11 L556.94 370.30 L558.28 370.49 L559.62 370.67 L560.96 370.86 L562.30 371.04 L563.64 371.22 L564.98 371.40 L566.32 371.58 L567.66 371.76 L569.00 371.94 L570.34 372.12 L571.67 372.30 L573.01 372.47 L574.35 372.65 L575.69 372.82 L577.03 373.00 L578.37 373.17 L579.71 373.34 L581.05 373.51 L582.39 373.68 L583.73 373.85 L585.07 374.02 L586.41 374.19 L587.75 374.36 L589.09 374.52 L590.43 374.69 L591.77 374.86 L593.11 375.02 L594.45 375.19 L595.79 375.35 L597.13 375.51 L598.46 375.68 L599.80 375.84 L601.14 376.00 L602.48 376.16 L603.82 376.32 L605.16 376.48 L606.50 376.64 L607.84 376.80 L609.18 376.96 L610.52 377.12 L611.86 377.27 L613.20 377.43 L614.54 377.59 L615.88 377.74 L617.22 377.90 L618.56 378.06 L619.90 378.21 L621.24 378.37 L622.58 378.52 L623.91 378.68 L625.25 378.83 L626.59 378.99 L627.93 379.14 L629.27 379.29 L630.61 379.45 L631.95 379.60 L633.29 379.75 L634.63 379.91 L635.97 380.06 L637.31 380.21 L638.65 380.37 L639.99 380.52 L641.33 380.67 L642.67 380.82 L644.01 380.98 L645.35 381.13" fill="none" stroke="#ff0000" stroke-width="1.1" stroke-dasharray="7.3 7.2" stroke-linecap="square"/>
<path d="M110.89 47.71 L112.24 47.75 L113.60 47.86 L114.95 48.03 L116.30 48.27 L117.66 48.56 L119.01 48.92 L120.36 49.33 L121.72 49.81 L123.07 50.35 L124.43 50.94 L125.78 51.60 L127.13 52.31 L128.49 53.08 L129.84 53.91 L131.19 54.79 L132.55 55.73 L133.90 56.72 L135.25 57.77 L136.61 58.87 L137.96 60.01 L139.32 61.21 L140.67 62.46 L142.02 63.75 L143.38 65.09 L144.73 66.47 L146.08 67.90 L147.44 69.37 L148.79 70.88 L150.14 72.42 L151.50 74.01 L152.85 75.63 L154.20 77.29 L155.56 78.98 L156.91 80.71 L158.27 82.46 L159.62 84.24 L160.97 86.06 L162.33 87.89 L163.68 89.76 L165.03 91.64 L166.39 93.55 L167.74 95.48 L169.09 97.43 L170.45 99.40 L171.80 101.38 L173.15 103.38 L174.51 105.39 L175.86 107.42 L177.22 109.45 L178.57 111.50 L179.92 113.55 L181.28 115.61 L182.63 117.68 L183.98 119.76 L185.34 121.83 L186.69 123.92 L188.04 126.00 L189.40 128.08 L190.75 130.17 L192.11 132.25 L193.46 134.33 L194.81 136.41 L196.17 138.48 L197.52 140.55 L198.87 142.61 L200.23 144.67 L201.58 146.72 L202.93 148.76 L204.29 150.80 L205.64 152.82 L206.99 154.84 L208.35 156.84 L209.70 158.84 L211.06 160.82 L212.41 162.79 L213.76 164.75 L215.12 166.69 L216.47 168.63 L217.82 170.54 L219.18 172.45 L220.53 174.34 L221.88 176.22 L223.24 178.08 L224.59 179.92 L225.94 181.75 L227.30 183.56 L228.65 185.36 L230.01 187.14 L231.36 188.90 L232.71 190.64 L234.07 192.37 L235.42 194.08 L236.77 195.77 L238.13 197.45 L239.48 199.11 L240.83 200.75 L242.19 202.37 L243.54 203.98 L244.90 205.57 L246.25 207.14 L247.60 208.70 L248.96 210.24 L250.31 211.77 L251.66 213.28 L253.02 214.77 L254.37 216.24 L255.72 217.70 L257.08 219.15 L258.43 220.58 L259.78 221.99 L261.14 223.39 L262.49 224.77 L263.85 226.14 L265.20 227.50 L266.55 228.84 L267.91 230.16 L269.26 231.47 L270.61 232.77 L271.97 234.06 L273.32 235.33 L274.67 236.59 L276.03 237.83 L277.38 239.06 L278.73 240.28 L280.09 241.49 L281.44 242.69 L282.80 243.87 L284.15 245.04 L285.50 246.20 L286.86 247.35 L288.21 248.49 L289.56 249.62 L290.92 250.73 L292.27 251.84 L293.62 252.93 L294.98 254.02 L296.33 255.09 L297.68 256.16 L299.04 257.21 L300.39 258.26 L301.75 259.30 L303.10 260.32 L304.45 261.34 L305.81 262.35 L307.16 263.35 L308.51 264.35 L309.87 265.33 L311.22 266.31 L312.57 267.31 L313.93 268.29 L315.28 269.27 L316.64 270.24 L317.99 271.20 L319.34 272.16 L320.70 273.11 L322.05 274.05 L323.40 274.99 L324.76 275.92 L326.11 276.84 L327.46 277.75 L328.82 278.65 L330.17 279.55 L331.52 280.44 L332.88 281.32 L334.23 282.19 L335.59 283.06 L336.94 283.92 L338.29 284.77 L339.65 285.62 L341.00 286.45 L342.35 287.29 L343.71 288.11 L345.06 288.93 L346.41 289.74 L347.77 290.54 L349.12 291.34 L350.47 292.13 L351.83 292.91 L353.18 293.69 L354.54 294.46 L355.89 295.23 L357.24 295.98 L358.60 296.74 L359.95 297.48 L361.30 298.22 L362.66 298.95 L364.01 299.68 L365.36 300.40 L366.72 301.12 L368.07 301.83 L369.43 302.53 L370.78 303.23 L372.13 303.92 L373.49 304.61 L374.84 305.29 L376.19 305.96 L377.55 306.63 L378.90 307.30 L380.25 307.96 L381.61 308.61 L382.96 309.26 L384.31 309.90 L385.67 310.54 L387.02 311.17 L388.38 311.80 L389.73 312.42 L391.08 313.03 L392.44 313.65 L393.79 314.25 L395.14 314.86 L396.50 315.45 L397.85 316.04 L399.20 316.63 L400.56 317.21 L401.91 317.79 L403.26 318.37 L404.62 318.94 L405.97 319.50 L407.33 320.06 L408.68 320.61 L410.03 321.17 L411.39 321.71 L412.74 322.26 L414.09 322.79 L415.45 323.33 L416.80 323.86 L418.15 324.38 L419.51 324.91 L420.86 325.42 L422.22 325.94 L423.57 326.45 L424.92 326.96 L426.28 327.46 L427.63 327.97 L428.98 328.47 L430.34 328.98 L431.69 329.48 L433.04 329.97 L434.40 330.47 L435.75 330.96 L437.10 331.46 L438.46 331.95 L439.81 332.44 L441.17 332.92 L442.52 333.41 L443.87 333.89 L445.23 334.37 L446.58 334.84 L447.93 335.32 L449.29 335.79 L450.64 336.26 L451.99 336.73 L453.35 337.20 L454.70 337.66 L456.05 338.13 L457.41 338.58 L458.76 339.04 L460.12 339.50 L461.47 339.95 L462.82 340.40 L464.18 340.84 L465.53 341.29 L466.88 341.73 L468.24 342.17 L469.59 342.60 L470.94 343.04 L472.30 343.47 L473.65 343.89 L475.01 344.32 L476.36 344.74 L477.71 345.16 L479.07 345.58 L480.42 345.99 L481.77 346.40 L483.13 346.81 L484.48 347.21 L485.83 347.61 L487.19 348.01 L488.54 348.40 L489.89 348.79 L491.25 349.18 L492.60 349.57 L493.96 349.95 L495.31 350.32 L496.66 350.70 L498.02 351.07 L499.37 351.44 L500.72 351.80 L502.08 352.16 L503.43 352.52 L504.78 352.88 L506.14 353.24 L507.49 353.59 L508.84 353.95 L510.20 354.30 L511.55 354.65 L512.91 355.00 L514.26 355.35 L515.61 355.70 L516.97 356.05 L518.32 356.39 L519.67 356.74 L521.03 357.08 L522.38 357.42 L523.73 357.76 L525.09 358.10 L526.44 358.44 L527.79 358.78 L529.15 359.11 L530.50 359.45 L531.86 359.78 L533.21 360.12 L534.56 360.45 L535.92 360.78 L537.27 361.11 L538.62 361.44 L539.98 361.77 L541.33 362.09 L542.68 362.42 L544.04 362.74 L545.39 363.07 L546.75 363.39 L548.10 363.71 L549.45 364.03 L550.81 364.35 L552.16 364.66 L553.51 364.98 L554.87 365.30 L556.22 365.61 L557.57 365.92 L558.93 366.23 L560.28 366.55 L561.63 366.85 L562.99 367.16 L564.34 367.47 L565.70 367.77 L567.05 368.08 L568.40 368.38 L569.76 368.68 L571.11 368.98 L572.46 369.28 L573.82 369.57 L575.17 369.87 L576.52 370.16 L577.88 370.45 L579.23 370.74 L580.58 371.03 L581.94 371.31 L583.29 371.59 L584.65 371.85 L586.00 372.11 L587.35 372.35 L588.71 372.59 L590.06 372.82 L591.41 373.04 L592.77 373.26 L594.12 373.47 L595.47 373.68 L596.83 373.88 L598.18 374.08 L599.54 374.27 L600.89 374.47 L602.24 374.66 L603.60 374.85 L604.95 375.03 L606.30 375.22 L607.66 375.41 L609.01 375.60 L610.36 375.80 L611.72 375.99 L613.07 376.19 L614.42 376.39 L615.78 376.59 L617.13 376.80 L618.49 377.01 L619.84 377.22 L621.19 377.42 L622.55 377.62 L623.90 377.82 L625.25 378.01 L626.61 378.19 L627.96 378.40 L629.31 378.61 L630.67 378.82 L632.02 379.05 L633.37 379.28 L634.73 379.51 L636.08 379.74 L637.44 379.96 L638.79 380.19 L640.14 380.40 L641.50 380.61 L642.85 380.81 L644.20 381.00 L645.56 381.17 L646.91 381.33 L648.26 381.47 L649.62 381.59 L650.97 381.69" fill="none" stroke="#000" stroke-width="1.1" stroke-dasharray="7.3 7.2" stroke-linecap="square"/>
<text x="94.0" y="382.00" text-anchor="end" class="t">0.0005</text>
<text x="94.0" y="335.07" text-anchor="end" class="t">0.0010</text>
<text x="94.0" y="288.14" text-anchor="end" class="t">0.0015</text>
<text x="94.0" y="241.21" text-anchor="end" class="t">0.0020</text>
<text x="94.0" y="194.29" text-anchor="end" class="t">0.0025</text>
<text x="94.0" y="147.36" text-anchor="end" class="t">0.0030</text>
<text x="94.0" y="100.43" text-anchor="end" class="t">0.0035</text>
<text x="94.0" y="53.50" text-anchor="end" class="t">0.0040</text>
<text x="110.50" y="409.2" text-anchor="middle" class="t">0</text>
<text x="221.88" y="409.2" text-anchor="middle" class="t">2</text>
<text x="333.26" y="409.2" text-anchor="middle" class="t">4</text>
<text x="444.64" y="409.2" text-anchor="middle" class="t">6</text>
<text x="556.02" y="409.2" text-anchor="middle" class="t">8</text>
<text x="139.9" y="23.7" text-anchor="start" class="ti"><tspan class="i">δ</tspan><tspan class="sub" dy="4">1</tspan><tspan dy="-4" dx="2.5">=0.2, </tspan><tspan class="i">δ</tspan><tspan class="sub" dy="4">2</tspan><tspan dy="-4">=0.5 (solid), </tspan><tspan class="i">δ</tspan><tspan class="sub" dy="4">1</tspan><tspan dy="-4" dx="2.5">=0.2, </tspan><tspan class="i">δ</tspan><tspan class="sub" dy="4">2</tspan><tspan dy="-4" dx="1.5">=8.5 (dotted)</tspan></text>
<text transform="translate(24.5,215) rotate(-90)" text-anchor="middle" class="ax i">ρ<tspan dy="2">−</tspan><tspan dy="-2">P</tspan><tspan style="font-size:20px" dy="5.5">r</tspan></text>
<text x="380.8" y="452" text-anchor="middle" style="font-size:28.3px">r</text>
</svg>
</body></html>
